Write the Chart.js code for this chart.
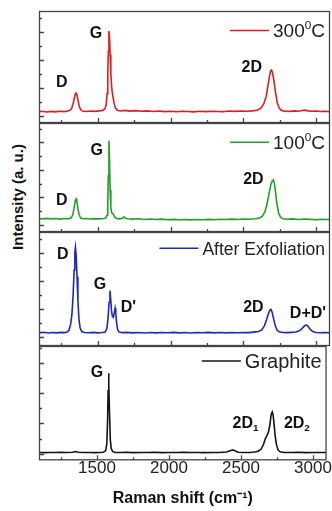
<!DOCTYPE html>
<html>
<head>
<meta charset="utf-8">
<script src="https://cdn.jsdelivr.net/npm/chart.js@4"></script>
<style>
  body { margin: 0; background: #fff; width: 332px; height: 511px; overflow: hidden; position: relative; }
  canvas { position: absolute; }
  #ytitle {
    position: absolute; left: -52px; top: 188px; width: 140px; height: 18px; line-height: 18px;
    text-align: center; transform: rotate(-90deg);
    font: bold 15px "Liberation Sans", Arial, sans-serif;
    white-space: nowrap; color: #111;
  }
</style>
</head>
<body>
<div id="ytitle">Intensity (a. u.)</div>
<canvas id="p1"></canvas>
<canvas id="p2"></canvas>
<canvas id="p3"></canvas>
<canvas id="p4"></canvas>
<script>
// axis range and ticks
const xMin = 1097, xMax = 3094;
const xMajorTicks = [1500, 2000, 2500, 3000];
const xMinorTicks = [1250, 1750, 2250, 2750];
const yMajorTicks = [0, 25, 50, 75];
const yMinorTicks = [12.5, 37.5, 62.5, 87.5];

const seriesNames = ['300⁰C', '100⁰C', 'After Exfoliation', 'Graphite'];

// 300 C spectrum
const shift300 = [1097,1120,1150,1180,1210,1240,1270,1295,1312,1322,1332,1340,1347,1352,1358,1365,1373,1382,1395,1420,1450,1480,1510,1535,1550,1558,1564,1569,1573,1577,1581,1585,1590,1595,1600,1606,1613,1622,1635,1655,1690,1720,1760,1800,1840,1880,1920,1960,2000,2040,2080,2120,2160,2200,2240,2280,2320,2360,2400,2440,2480,2520,2560,2595,2620,2640,2655,2667,2678,2687,2693,2700,2710,2720,2732,2745,2760,2785,2820,2850,2880,2900,2920,2945,2970,3000,3030,3060,3094];
const int300 = [3.9,4.2,3.6,4.1,3.7,4.3,3.9,4.4,5.2,7.0,11.5,16.5,20.0,20.5,18.6,14.0,9.0,5.8,4.4,4.0,4.5,4.1,4.6,5.0,6.5,10,20,38,58,75.9,71,55,38,27,21,16,11,7,5.2,4.5,5.0,4.4,4.8,4.3,4.6,4.0,4.4,3.9,4.2,3.8,4.3,4.0,3.7,4.2,3.9,4.3,4.0,3.8,4.4,4.1,4.5,4.2,4.6,5.2,7,11,17,26,35,40.5,41,38.5,31,21,12,7,5,4.3,4.1,4.6,4.3,4.9,5.2,4.6,4.2,4.4,4.0,4.3,3.9];

// 100 C spectrum
const shift100 = [1097,1120,1150,1180,1210,1240,1270,1300,1318,1328,1337,1345,1351,1357,1364,1372,1382,1395,1420,1450,1480,1510,1540,1556,1564,1569,1573,1577,1581,1585,1590,1596,1603,1610,1618,1630,1650,1672,1680,1688,1705,1740,1780,1820,1860,1900,1940,1980,2020,2060,2100,2140,2180,2220,2260,2300,2340,2380,2420,2460,2500,2540,2580,2610,2630,2648,2662,2675,2687,2697,2705,2712,2720,2730,2742,2755,2770,2800,2840,2880,2920,2960,3000,3040,3070,3094];
const int100 = [5.8,5.4,6.0,5.5,5.9,5.3,5.8,5.6,6.5,9,15,21.5,23.6,21,15,9.5,6.5,5.6,5.9,5.4,5.8,5.5,5.9,6.4,9,20,45,76.6,60,32,16,11,10.5,9,6.8,5.8,5.5,6.2,7.3,6.3,5.6,5.3,5.6,5.0,5.4,4.9,5.3,4.8,5.1,4.7,5.0,4.6,5.0,4.7,5.1,4.8,5.2,4.9,5.3,5.0,5.4,5.2,5.6,6.4,8,12,19,28,36,40,40.9,38,30,19,10.5,7,5.6,5.2,5.5,5.0,5.4,5.1,4.8,5.2,4.9,5.1];

// after exfoliation spectrum
const shiftExf = [1097,1130,1160,1190,1220,1250,1275,1292,1303,1314,1323,1331,1338,1343,1347,1352,1358,1364,1371,1379,1390,1410,1440,1470,1500,1530,1552,1563,1571,1578,1584,1589,1594,1600,1607,1613,1619,1624,1630,1637,1648,1670,1700,1740,1780,1820,1860,1900,1940,1980,2020,2060,2100,2140,2180,2220,2260,2300,2340,2380,2420,2460,2500,2540,2580,2605,2625,2643,2658,2672,2682,2689,2697,2707,2718,2730,2745,2770,2800,2830,2860,2880,2900,2915,2928,2937,2948,2962,2978,3000,3030,3060,3094];
const intExf = [3.5,3.9,3.3,3.8,3.4,3.9,3.6,4.4,6,11,20,37,60,76,80.4,73,54,33,16,8,4.6,3.8,3.5,3.9,3.4,3.8,4.2,7.5,17,31,41.4,34,24,18.5,17.5,21,25.5,21,12,6,4.1,3.6,3.9,3.4,3.8,3.3,3.7,3.4,3.8,3.5,3.9,3.4,3.8,3.3,3.7,3.5,3.9,3.4,3.7,3.4,3.8,3.5,3.8,3.6,4.3,4.6,6,9.5,15,21,24,24.6,22,16,10,6,4.4,3.8,3.6,3.9,4.2,5,7,9.2,10.5,10.3,8.5,6,4.5,3.8,3.5,3.7,3.4];

// graphite spectrum
const shiftGr = [1097,1130,1170,1210,1250,1290,1330,1350,1370,1410,1450,1490,1520,1545,1560,1568,1573,1577,1580,1583,1587,1592,1598,1608,1625,1660,1700,1750,1800,1850,1900,1950,2000,2050,2100,2150,2200,2250,2300,2350,2400,2425,2442,2458,2480,2520,2560,2595,2620,2640,2656,2668,2680,2690,2698,2705,2711,2717,2723,2730,2738,2747,2758,2772,2800,2850,2900,2950,3000,3050,3094];
const intGr = [1.0,0.8,1.0,0.9,1.1,0.9,1.2,1.7,1.1,0.9,1.0,0.8,1.0,1.2,2.5,8,26,52,66.4,58,33,12,4.5,1.8,1.0,0.9,1.1,0.8,1.0,0.9,1.1,0.8,1.0,0.9,1.1,0.9,1.0,0.8,1.0,0.9,1.3,2.4,3.1,2.3,1.2,1.0,0.9,1.3,2,3.8,7.5,12,15,17.5,22,28,33,34.4,32,24,14,7,3,1.5,1.0,0.9,1.1,0.8,1.0,0.9,1.0];

// peak labels (text, shift, intensity)
const peaks300 = ['D', 'G', '2D'];
const peaks300X = [1253, 1488, 2557];
const peaks300Y = [30.6, 74.7, 44];
const peaks100 = ['D', 'G', '2D'];
const peaks100X = [1253, 1493, 2568];
const peaks100Y = [23.6, 68.8, 42.5];
const peaksExf = ['D', 'G', "D'", '2D', "D+D'"];
const peaksExfX = [1260, 1516, 1710, 2568, 2943];
const peaksExfY = [75, 48, 27, 27, 22];
const peaksGr = ['G', '2D₁', '2D₂'];
const peaksGrX = [1500, 2531, 2888];
const peaksGrY = [67.9, 26, 26];

const FONT = '"Liberation Sans", Arial, sans-serif';

const panels = [
  { id: 'p1', name: seriesNames[0], xs: shift300, ys: int300, color: 'rgb(222,30,30)',
    top: 11, bottom: 123, yMin: -6.25, yMax: 93.75, legendSize: 19, legendDy: 19.5,
    labels: peaks300, labelX: peaks300X, labelY: peaks300Y },
  { id: 'p2', name: seriesNames[1], xs: shift100, ys: int100, color: 'rgb(34,160,40)',
    top: 123, bottom: 232, yMin: -6.4, yMax: 92.7, legendSize: 19, legendDy: 19.3,
    labels: peaks100, labelX: peaks100X, labelY: peaks100Y },
  { id: 'p3', name: seriesNames[2], xs: shiftExf, ys: intExf, color: 'rgb(30,40,190)',
    top: 232, bottom: 346, yMin: -8.4, yMax: 94.2, legendSize: 17.5, legendDy: 16.3,
    labels: peaksExf, labelX: peaksExfX, labelY: peaksExfY },
  { id: 'p4', name: seriesNames[3], xs: shiftGr, ys: intGr, color: 'rgb(20,20,20)',
    top: 346, bottom: 454, yMin: -5.5, yMax: 88.9, legendSize: 20, legendDy: 15,
    labels: peaksGr, labelX: peaksGrX, labelY: peaksGrY }
];

// text with super/subscript characters
const SUP = { '⁰': '0', '¹': '1', '⁻': '-' };
const SUB = { '₁': '1', '₂': '2' };
function richText(ctx, str, x, y, size, weight, align) {
  const parts = [];
  for (const ch of str) {
    let kind = 'n', c = ch;
    if (SUP[ch]) { kind = 'sup'; c = SUP[ch]; }
    else if (SUB[ch]) { kind = 'sub'; c = SUB[ch]; }
    const last = parts[parts.length - 1];
    if (last && last.kind === kind) last.t += c; else parts.push({ kind, t: c });
  }
  let w = 0;
  parts.forEach(p => {
    p.size = p.kind === 'n' ? size : size * 0.62;
    ctx.font = `${weight} ${p.size}px ${FONT}`;
    p.w = ctx.measureText(p.t).width;
    w += p.w;
  });
  let cx = align === 'right' ? x - w : align === 'center' ? x - w / 2 : x;
  ctx.textAlign = 'left';
  ctx.textBaseline = 'alphabetic';
  parts.forEach(p => {
    ctx.font = `${weight} ${p.size}px ${FONT}`;
    const dy = p.kind === 'sup' ? -size * 0.42 : p.kind === 'sub' ? size * 0.22 : 0;
    ctx.fillText(p.t, cx, y + dy);
    cx += p.w;
  });
  return w;
}

function panelPlugin(p) {
  return {
    id: 'panel',
    afterDraw(chart) {
      const { ctx, chartArea: a, scales: { x, y } } = chart;
      ctx.save();
      // frame
      ctx.strokeStyle = '#444';
      ctx.lineWidth = 1.3;
      ctx.strokeRect(a.left + 0.5, a.top + 0.5, a.right - a.left - 1, a.bottom - a.top - 1);
      // inward ticks
      ctx.beginPath();
      xMajorTicks.forEach(v => { const px = Math.round(x.getPixelForValue(v)) + 0.5; ctx.moveTo(px, a.bottom); ctx.lineTo(px, a.bottom - 5); });
      xMinorTicks.forEach(v => { const px = Math.round(x.getPixelForValue(v)) + 0.5; ctx.moveTo(px, a.bottom); ctx.lineTo(px, a.bottom - 3); });
      yMajorTicks.forEach(v => { const py = Math.round(y.getPixelForValue(v)) + 0.5; if (py > a.top + 2) { ctx.moveTo(a.left, py); ctx.lineTo(a.left + 5, py); } });
      yMinorTicks.forEach(v => { const py = Math.round(y.getPixelForValue(v)) + 0.5; if (py > a.top + 2) { ctx.moveTo(a.left, py); ctx.lineTo(a.left + 3, py); } });
      ctx.stroke();
      // legend
      ctx.fillStyle = '#222';
      const ly = a.top + p.legendDy;
      const tw = richText(ctx, p.name, a.right - 5, ly + p.legendSize * 0.36, p.legendSize, 'normal', 'right');
      const lx = a.right - 5 - tw - 4;
      ctx.strokeStyle = p.color;
      ctx.lineWidth = 1.5;
      ctx.beginPath();
      ctx.moveTo(lx - 39, ly);
      ctx.lineTo(lx, ly);
      ctx.stroke();
      // peak labels
      ctx.fillStyle = '#111';
      p.labels.forEach((t, k) => {
        const px = x.getPixelForValue(p.labelX[k]);
        const py = y.getPixelForValue(p.labelY[k]);
        richText(ctx, t, px, py + 16 * 0.36, 16, 'bold', 'center');
      });
      ctx.restore();
    }
  };
}

panels.forEach((p, i) => {
  const last = i === panels.length - 1;
  const cv = document.getElementById(p.id);
  cv.style.left = '37px';
  cv.style.top = (p.top - 2) + 'px';
  cv.width = 295;
  cv.height = last ? 511 - (p.top - 2) : p.bottom - p.top + 4;
  new Chart(cv, {
    type: 'line',
    data: {
      datasets: [{
        label: p.name,
        data: p.xs.map((v, k) => ({ x: v, y: p.ys[k] })),
        borderColor: p.color,
        borderWidth: 1.6,
        pointRadius: 0,
        tension: 0,
        fill: false
      }]
    },
    options: {
      responsive: false,
      animation: false,
      devicePixelRatio: 1,
      layout: { autoPadding: false, padding: { left: 2, right: 2, top: 2, bottom: last ? 0 : 2 } },
      plugins: { legend: { display: false }, tooltip: { enabled: false } },
      scales: {
        x: {
          type: 'linear', min: xMin, max: xMax, display: last,
          grid: { display: false, drawTicks: false },
          border: { display: false },
          afterBuildTicks: s => { s.ticks = xMajorTicks.map(v => ({ value: v })); },
          ticks: { padding: 0, color: '#222', maxRotation: 0, autoSkip: false, callback: v => String(v),
                   font: { size: 17, family: FONT, lineHeight: 1 } },
          title: { display: true, text: 'Raman shift (cm⁻¹)', color: '#111',
                   font: { size: 16, weight: 'bold', family: FONT }, padding: { top: 11.5, bottom: 3 } }
        },
        y: { type: 'linear', min: p.yMin, max: p.yMax, display: false }
      }
    },
    plugins: [panelPlugin(p)]
  });
});
</script>
</body>
</html>
